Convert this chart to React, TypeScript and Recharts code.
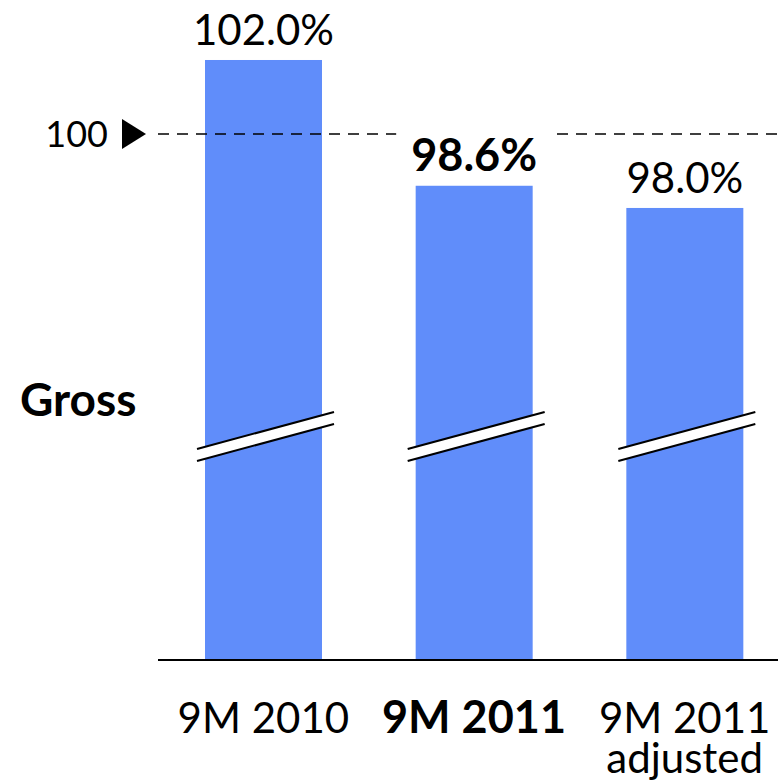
import React from "react";
import { BarChart, Bar, XAxis, YAxis, ReferenceLine, LabelList } from "recharts";

const categories = ["9M 2010", "9M 2011", "9M 2011\nadjusted"];
const values = [102.0, 98.6, 98.0];
const highlighted = [false, true, false];
const yTicks = [100];

const data = categories.map((name, i) => ({ name, value: values[i], bold: highlighted[i] }));

const FONT = "Lato, 'Open Sans', sans-serif";
const BAR_COLOR = "#608DFA";

// bar with the "axis break" band drawn across it
const BrokenBar = (props: any) => {
  const { x, y, width, height } = props;
  const base = y + height;
  const x1 = x - 8;
  const x2 = x + width + 12;
  const yl = base - 211;
  const yr = base - 248;
  const gap = 12;
  return (
    <g>
      <rect x={x} y={y} width={width} height={height} fill={BAR_COLOR} />
      <polygon points={`${x1},${yl} ${x2},${yr} ${x2},${yr + gap} ${x1},${yl + gap}`} fill="#fff" />
      <line x1={x1} y1={yl} x2={x2} y2={yr} stroke="#000" strokeWidth={2} />
      <line x1={x1} y1={yl + gap} x2={x2} y2={yr + gap} stroke="#000" strokeWidth={2} />
    </g>
  );
};

const ValueLabel = (props: any) => {
  const { x, y, width, value, index } = props;
  const bold = highlighted[index];
  const cx = x + width / 2;
  return (
    <g>
      <rect x={cx - 78} y={y - 64} width={156} height={58} fill="#fff" />
      <text
        x={cx}
        y={y - 15}
        textAnchor="middle"
        fontFamily={FONT}
        fontSize={bold ? 45 : 42}
        fontWeight={bold ? 700 : 400}
        fill="#000"
      >
        {`${Number(value).toFixed(1)}%`}
      </text>
    </g>
  );
};

const CategoryTick = (props: any) => {
  const { x, y, payload, index } = props;
  const lines = String(payload.value).split("\n");
  const bold = highlighted[index];
  return (
    <text
      x={x}
      y={y + 65}
      textAnchor="middle"
      fontFamily={FONT}
      fontSize={bold ? 45 : 42}
      fontWeight={bold ? 700 : 400}
      fill="#000"
    >
      {lines.map((ln, i) => (
        <tspan key={i} x={x} dy={i === 0 ? 0 : 40}>
          {ln}
        </tspan>
      ))}
    </text>
  );
};

const ValueTick = (props: any) => {
  const { x, y, payload } = props;
  return (
    <g>
      <text x={x - 50} y={y + 13} textAnchor="end" fontFamily={FONT} fontSize={36} fill="#000">
        {payload.value}
      </text>
      <polygon points={`${x - 36},${y - 15} ${x - 12},${y} ${x - 36},${y + 15}`} fill="#000" />
    </g>
  );
};

export default function App() {
  return (
    <div style={{ position: "absolute", left: 0, top: 0, width: 778, height: 782, overflow: "hidden", background: "#fff" }}>
      <BarChart
        width={790}
        height={782}
        data={data}
        margin={{ top: 23, right: 0, left: 0, bottom: 0 }}
        barSize={117}
      >
        <ReferenceLine y={100} stroke="#000" strokeWidth={1.5} strokeDasharray="11 8" />
        <XAxis
          dataKey="name"
          axisLine={{ stroke: "#000", strokeWidth: 2 }}
          tickLine={false}
          tick={<CategoryTick />}
          interval={0}
          height={122}
        />
        <YAxis
          domain={[85.78, 103]}
          allowDataOverflow
          ticks={yTicks}
          width={158}
          axisLine={false}
          tickLine={false}
          tickSize={0}
          tickMargin={0}
          tick={<ValueTick />}
          label={{
            content: (p: any) => (
              <text
                x={20}
                y={(p.viewBox?.y ?? 23) + 393}
                fontFamily={FONT}
                fontSize={46}
                fontWeight={700}
                fill="#000"
              >
                Gross
              </text>
            ),
          }}
        />
        <Bar dataKey="value" shape={<BrokenBar />} isAnimationActive={false}>
          <LabelList dataKey="value" content={<ValueLabel />} />
        </Bar>
      </BarChart>
    </div>
  );
}
